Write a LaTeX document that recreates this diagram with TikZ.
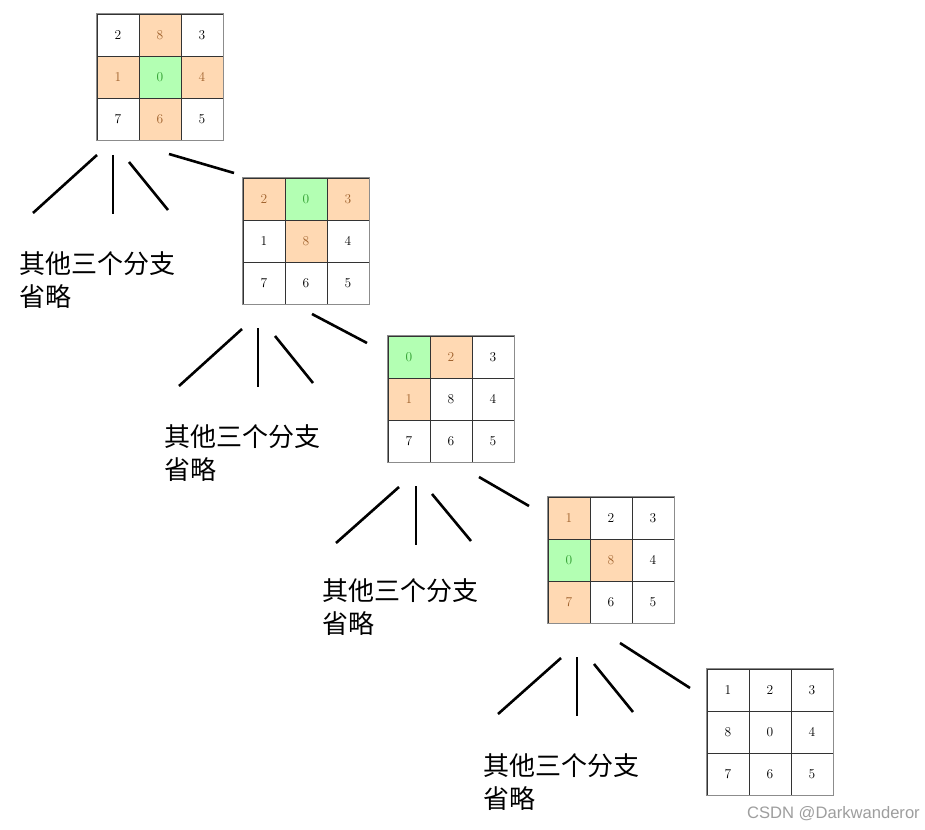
\documentclass[tikz,border=0pt]{standalone}
\usepackage{fontspec}
\newfontfamily\cjk{Noto Sans CJK SC}
\newfontfamily\wmfont{Liberation Sans}
\definecolor{peach}{HTML}{FFD9B3}
\definecolor{mint}{HTML}{B3FFB3}
\definecolor{brownnum}{HTML}{A0622D}
\definecolor{greennum}{HTML}{2E9E2E}
\tikzset{
  cellw/.style={minimum size=42pt, inner sep=0pt, draw=black!80, line width=0.6pt, font=\fontsize{13.5}{13.5}\selectfont},
  cello/.style={cellw, fill=peach, text=brownnum},
  cellg/.style={cellw, fill=mint, text=greennum},
  branch/.style={line width=2.6pt},
  note/.style={font=\cjk\fontsize{26}{33}\selectfont, align=left, anchor=base west, inner sep=0pt},
  frame/.style={draw=black!45, line width=0.9pt},
}
\newcommand\puzzlegrid[4]{%
  \foreach \st/\nm [count=\k from 0] in {#4} {
    \pgfmathtruncatemacro\cc{mod(\k,3)}
    \pgfmathtruncatemacro\rr{div(\k,3)}
    \node[\st] (#1-\k) at ({#2+21+42*\cc},{#3+21+42*\rr}) {\nm};
  }
  \draw[frame] (#1-0.north west) rectangle (#1-8.south east);
}
\begin{document}
\begin{tikzpicture}[x=1pt,y=-1pt]
\useasboundingbox (0,0) rectangle (925,829);
\fill[white] (0,0) rectangle (925,829);

\puzzlegrid{ga}{97}{14}{cellw/2,cello/8,cellw/3,cello/1,cellg/0,cello/4,cellw/7,cello/6,cellw/5}
\puzzlegrid{gb}{243}{178}{cello/2,cellg/0,cello/3,cellw/1,cello/8,cellw/4,cellw/7,cellw/6,cellw/5}
\puzzlegrid{gc}{388}{336}{cellg/0,cello/2,cellw/3,cello/1,cellw/8,cellw/4,cellw/7,cellw/6,cellw/5}
\puzzlegrid{gd}{548}{497}{cello/1,cellw/2,cellw/3,cellg/0,cello/8,cellw/4,cello/7,cellw/6,cellw/5}
\puzzlegrid{ge}{707}{669}{cellw/1,cellw/2,cellw/3,cellw/8,cellw/0,cellw/4,cellw/7,cellw/6,cellw/5}

% branch end points
\coordinate (a1s) at (97,155);  \coordinate (a1e) at (33,213);
\coordinate (a2s) at (113,155); \coordinate (a2e) at (113,214);
\coordinate (a3s) at (129,162); \coordinate (a3e) at (168,210);
\coordinate (a4s) at (169,154); \coordinate (a4e) at (234,173);

\coordinate (b1s) at (242,329); \coordinate (b1e) at (179,386);
\coordinate (b2s) at (258,328); \coordinate (b2e) at (258,387);
\coordinate (b3s) at (275,336); \coordinate (b3e) at (313,383);
\coordinate (b4s) at (312,314); \coordinate (b4e) at (367,343);

\coordinate (c1s) at (399,487); \coordinate (c1e) at (336,543);
\coordinate (c2s) at (416,486); \coordinate (c2e) at (416,545);
\coordinate (c3s) at (432,494); \coordinate (c3e) at (471,541);
\coordinate (c4s) at (479,477); \coordinate (c4e) at (529,506);

\coordinate (d1s) at (561,658); \coordinate (d1e) at (498,714);
\coordinate (d2s) at (577,657); \coordinate (d2e) at (577,716);
\coordinate (d3s) at (594,664); \coordinate (d3e) at (633,712);
\coordinate (d4s) at (620,643); \coordinate (d4e) at (690,688);

\foreach \p in {a,b,c,d}{
  \foreach \q in {1,2,3,4}{
    \draw[branch] (\p\q s) -- (\p\q e);
  }
}

\node[note] (na) at (19,306) {其他三个分支\\省略};
\node[note] (nb) at (164,479) {其他三个分支\\省略};
\node[note] (nc) at (322,633) {其他三个分支\\省略};
\node[note] (nd) at (483,808) {其他三个分支\\省略};

\node[font=\wmfont\fontsize{16.6}{16.6}\selectfont, text=black!38, anchor=base east, inner sep=0pt] (wm) at (920,818) {CSDN @Darkwanderor};
\end{tikzpicture}
\end{document}
